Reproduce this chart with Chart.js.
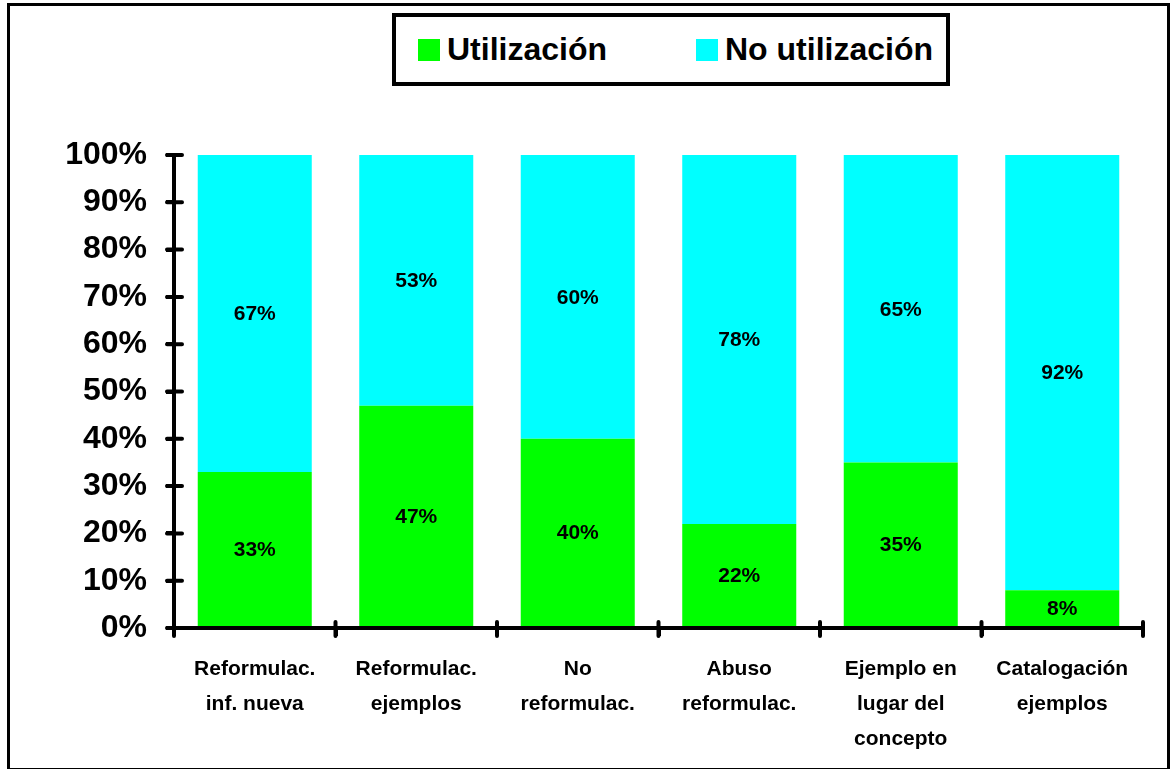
<!DOCTYPE html>
<html>
<head>
<meta charset="utf-8">
<script src="https://cdn.jsdelivr.net/npm/chart.js@4/dist/chart.umd.min.js"></script>
<style>
  body { margin: 0; background: #fff; font-family: "Liberation Sans", Arial, sans-serif; }
  #wrap { position: relative; width: 1173px; height: 769px; }
  #frame { position: absolute; left: 7px; top: 3px; width: 1157px; height: 762px; border: 3px solid #000; pointer-events: none; }
  #legend { position: absolute; left: 392px; top: 13px; width: 550px; height: 65px; border: 4px solid #000; background: #fff; }
  .item { position: absolute; top: 0; height: 65px; display: flex; align-items: center; font-weight: bold; font-size: 32px; color: #000; }
  .sw { width: 22px; height: 22px; margin-right: 7px; }
</style>
</head>
<body>
<div id="wrap">
  <canvas id="c" width="1173" height="769"></canvas>
  <div id="legend"></div>
  <div id="frame"></div>
</div>
<script>
const categories = [
  ["Reformulac.", "inf. nueva"],
  ["Reformulac.", "ejemplos"],
  ["No", "reformulac."],
  ["Abuso", "reformulac."],
  ["Ejemplo en", "lugar del", "concepto"],
  ["Catalogación", "ejemplos"]
];
const seriesNames = ["Utilización", "No utilización"];
const utilizacion = [33, 47, 40, 22, 35, 8];
const noUtilizacion = [67, 53, 60, 78, 65, 92];
const colors = ["#00FF00", "#00FFFF"];

// legend (html, built from the series arrays)
const legendEl = document.getElementById("legend");
const legendLeft = [22, 300];
seriesNames.forEach((name, i) => {
  const d = document.createElement("div");
  d.className = "item";
  d.style.left = legendLeft[i] + "px";
  d.innerHTML = `<span class="sw" style="background:${colors[i]}"></span><span>${name}</span>`;
  legendEl.appendChild(d);
});

const valueLabels = {
  id: "valueLabels",
  afterDatasetsDraw(chart) {
    const { ctx } = chart;
    ctx.save();
    ctx.font = "bold 21px 'Liberation Sans', Arial, sans-serif";
    ctx.fillStyle = "#000";
    ctx.textAlign = "center";
    ctx.textBaseline = "middle";
    chart.data.datasets.forEach((ds, i) => {
      chart.getDatasetMeta(i).data.forEach((bar, j) => {
        const p = bar.getProps(["x", "y", "base"], true);
        ctx.fillText(ds.data[j] + "%", p.x, (p.y + p.base) / 2 + 1);
      });
    });
    ctx.restore();
  }
};

// inner half of the crossing tick marks
const crossTicks = {
  id: "crossTicks",
  afterDraw(chart) {
    const { ctx, chartArea } = chart;
    const x = chart.scales.x, y = chart.scales.y;
    const step = x.getPixelForTick(1) - x.getPixelForTick(0);
    ctx.save();
    ctx.strokeStyle = "#000";
    ctx.lineWidth = 4;
    ctx.lineCap = "round";
    ctx.beginPath();
    for (let i = 0; i <= categories.length; i++) {
      const px = i < categories.length ? x.getPixelForTick(i) - step / 2 : chartArea.right;
      ctx.moveTo(px, chartArea.bottom + 8);
      ctx.lineTo(px, chartArea.bottom - 6);
    }
    y.ticks.forEach((t) => {
      const py = y.getPixelForValue(t.value);
      ctx.moveTo(chartArea.left - 7, py);
      ctx.lineTo(chartArea.left + 8, py);
    });
    ctx.stroke();
    ctx.restore();
  }
};

new Chart(document.getElementById("c"), {
  type: "bar",
  data: {
    labels: categories,
    datasets: [
      { label: seriesNames[0], data: utilizacion, backgroundColor: colors[0] },
      { label: seriesNames[1], data: noUtilizacion, backgroundColor: colors[1] }
    ]
  },
  options: {
    responsive: false,
    animation: false,
    layout: { padding: { top: 155, right: 30, bottom: 0, left: 0 } },
    datasets: { bar: { categoryPercentage: 1, barPercentage: 0.706 } },
    plugins: { legend: { display: false }, tooltip: { enabled: false } },
    scales: {
      x: {
        stacked: true,
        afterFit: (s) => { s.height = 141; },
        border: { color: "#000", width: 4 },
        grid: { drawOnChartArea: false, drawTicks: true, tickLength: 8, color: "#000", lineWidth: 4 },
        ticks: {
          color: "#000",
          padding: 16,
          maxRotation: 0,
          font: { family: "'Liberation Sans', Arial, sans-serif", size: 21, weight: "bold", lineHeight: 1.67 }
        }
      },
      y: {
        stacked: true,
        min: 0,
        max: 100,
        afterFit: (s) => { s.width = 174; },
        border: { color: "#000", width: 4 },
        grid: { drawOnChartArea: false, drawTicks: true, tickLength: 8, color: "#000", lineWidth: 4 },
        ticks: {
          stepSize: 10,
          color: "#000",
          padding: 19,
          callback: (v) => v + "%",
          font: { family: "'Liberation Sans', Arial, sans-serif", size: 32, weight: "bold" }
        }
      }
    }
  },
  plugins: [valueLabels, crossTicks]
});
</script>
</body>
</html>
